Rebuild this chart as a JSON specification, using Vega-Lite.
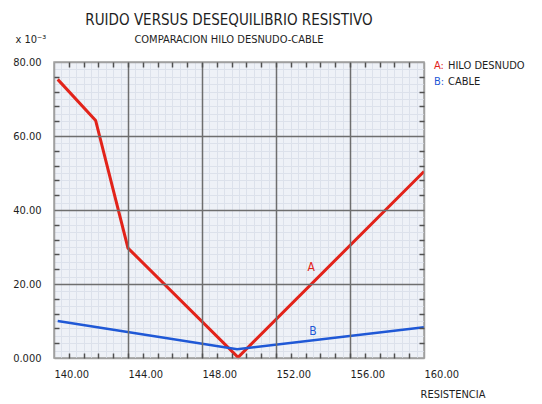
{
  "$schema": "https://vega.github.io/schema/vega-lite/v6.json",
  "width": 370,
  "height": 296,
  "autosize": {"type": "none"},
  "padding": {"left": 54, "top": 62, "right": 118, "bottom": 46},
  "background": "white",
  "config": {
    "font": "DejaVu Sans Condensed, sans-serif",
    "view": {"stroke": "#a0a0a0", "strokeWidth": 1.5, "fill": "#eef1f7"}
  },
  "title": {
    "text": "RUIDO VERSUS DESEQUILIBRIO RESISTIVO",
    "subtitle": "COMPARACION HILO DESNUDO-CABLE",
    "font": "DejaVu Sans Condensed, sans-serif",
    "subtitleFont": "DejaVu Sans Condensed, sans-serif",
    "fontSize": 15,
    "fontWeight": "normal",
    "subtitleFontSize": 11,
    "color": "#1e1e1e",
    "subtitleColor": "#1e1e1e",
    "anchor": "middle",
    "dx": -10,
    "dy": 28,
    "offset": 16,
    "subtitlePadding": 6
  },
  "datasets": {
    "lines": [
      {"series": "A", "x": 140.2, "y": 75.3},
      {"series": "A", "x": 142.25, "y": 64.2},
      {"series": "A", "x": 144.0, "y": 29.7},
      {"series": "A", "x": 149.95, "y": 0.2},
      {"series": "A", "x": 160.0, "y": 50.4},
      {"series": "B", "x": 140.2, "y": 10.0},
      {"series": "B", "x": 149.9, "y": 2.4},
      {"series": "B", "x": 160.0, "y": 8.3}
    ],
    "tags": [
      {"series": "A", "x": 153.9, "y": 24.7},
      {"series": "B", "x": 154.0, "y": 7.3}
    ]
  },
  "resolve": {"axis": {"x": "independent", "y": "independent"}},
  "layer": [
    {
      "data": {"name": "lines"},
      "mark": {"type": "point", "opacity": 0},
      "encoding": {
        "x": {"field": "x", "type": "quantitative", "scale": {"domain": [140, 160], "nice": false, "zero": false},
          "axis": {"orient": "bottom", "zindex": 0, "values": [140.4,140.8,141.2,141.6,142,142.4,142.8,143.2,143.6,144.4,144.8,145.2,145.6,146,146.4,146.8,147.2,147.6,148.4,148.8,149.2,149.6,150,150.4,150.8,151.2,151.6,152.4,152.8,153.2,153.6,154,154.4,154.8,155.2,155.6,156.4,156.8,157.2,157.6,158,158.4,158.8,159.2,159.6],
            "grid": true, "gridColor": "#dce1eb", "gridWidth": 1, "labels": false, "ticks": false, "domain": false, "title": null}},
        "y": {"field": "y", "type": "quantitative", "scale": {"domain": [0, 80], "nice": false},
          "axis": {"orient": "left", "zindex": 0, "values": [2,4,6,8,10,12,14,16,18,22,24,26,28,30,32,34,36,38,42,44,46,48,50,52,54,56,58,62,64,66,68,70,72,74,76,78],
            "grid": true, "gridColor": "#dce1eb", "gridWidth": 1, "labels": false, "ticks": false, "domain": false, "title": null}}
      }
    },
    {
      "data": {"name": "lines"},
      "mark": {"type": "point", "opacity": 0},
      "encoding": {
        "x": {"field": "x", "type": "quantitative",
          "axis": {"orient": "bottom", "zindex": 1, "values": [140,144,148,152,156,160],
            "grid": true,
            "gridColor": {"condition": {"test": "datum.value == 140 || datum.value == 160", "value": "#a0a0a0"}, "value": "#6e6e6e"},
            "gridWidth": 1.5,
            "ticks": false, "domain": false,
            "labelExpr": "format(datum.value, '.2f')",
            "labelAlign": "left", "labelBaseline": "top", "labelPadding": 10, "labelFlush": false,
            "labelFont": "DejaVu Sans Condensed, sans-serif",
            "labelFontSize": 11, "labelColor": "#1e1e1e",
            "title": "RESISTENCIA", "titleFontWeight": "normal", "titleFontSize": 11, "titleColor": "#1e1e1e",
            "titleFont": "DejaVu Sans Condensed, sans-serif",
            "titleAnchor": "start", "titleAlign": "left", "titleBaseline": "alphabetic", "titleX": 366, "titleY": 39}},
        "y": {"field": "y", "type": "quantitative",
          "axis": {"orient": "left", "zindex": 1, "values": [0,20,40,60,80],
            "grid": true,
            "gridColor": {"condition": {"test": "datum.value == 0 || datum.value == 80", "value": "#a0a0a0"}, "value": "#6e6e6e"},
            "gridWidth": 1.5,
            "ticks": false, "domain": false,
            "labelExpr": "datum.value == 0 ? '0.000' : format(datum.value, '.2f')",
            "labelPadding": 13,
            "labelFont": "DejaVu Sans Condensed, sans-serif",
            "labelFontSize": 11, "labelColor": "#1e1e1e",
            "title": "x 10⁻³", "titleAngle": 0, "titleFontWeight": "normal", "titleFontSize": 11, "titleColor": "#1e1e1e",
            "titleFont": "DejaVu Sans Condensed, sans-serif",
            "titleAlign": "left", "titleBaseline": "alphabetic", "titleX": -39, "titleY": -20}}
      }
    },
    {
      "data": {"name": "lines"},
      "mark": {"type": "point", "opacity": 0},
      "encoding": {
        "x": {"field": "x", "type": "quantitative",
          "axis": {"orient": "bottom", "zindex": 1, "values": [140.8,141.6,142.4,143.2,144,144.8,145.6,146.4,147.2,148,148.8,149.6,150.4,151.2,152,152.8,153.6,154.4,155.2,156,156.8,157.6,158.4,159.2],
            "grid": false, "labels": false, "domain": false, "ticks": true, "tickSize": -5, "tickWidth": 1.5, "tickColor": "#505050", "title": null}},
        "y": {"field": "y", "type": "quantitative",
          "axis": {"orient": "left", "zindex": 1, "values": [4,8,12,16,24,28,32,36,44,48,52,56,64,68,72,76],
            "grid": false, "labels": false, "domain": false, "ticks": true, "tickSize": -5, "tickWidth": 1.5, "tickColor": "#505050", "title": null}}
      }
    },
    {
      "data": {"name": "lines"},
      "mark": {"type": "point", "opacity": 0},
      "encoding": {
        "x": {"field": "x", "type": "quantitative",
          "axis": {"orient": "top", "zindex": 1, "values": [140.8,141.6,142.4,143.2,144,144.8,145.6,146.4,147.2,148,148.8,149.6,150.4,151.2,152,152.8,153.6,154.4,155.2,156,156.8,157.6,158.4,159.2],
            "grid": false, "labels": false, "domain": false, "ticks": true, "tickSize": -5, "tickWidth": 1.5, "tickColor": "#505050", "title": null}},
        "y": {"field": "y", "type": "quantitative",
          "axis": {"orient": "right", "zindex": 1, "values": [4,8,12,16,24,28,32,36,44,48,52,56,64,68,72,76],
            "grid": false, "labels": false, "domain": false, "ticks": true, "tickSize": -5, "tickWidth": 1.5, "tickColor": "#505050", "title": null}}
      }
    },
    {
      "data": {"name": "lines"},
      "mark": {"type": "line", "strokeJoin": "miter", "zindex": 2},
      "encoding": {
        "x": {"field": "x", "type": "quantitative", "axis": null},
        "y": {"field": "y", "type": "quantitative", "axis": null},
        "color": {"field": "series", "type": "nominal", "scale": {"domain": ["A", "B"], "range": ["#e2231a", "#1f58d6"]}, "legend": null},
        "strokeWidth": {"field": "series", "type": "nominal", "scale": {"domain": ["A", "B"], "range": [3, 2.5]}, "legend": null}
      }
    },
    {
      "data": {"name": "tags"},
      "mark": {"type": "text", "fontSize": 12, "zindex": 2, "font": "DejaVu Sans Condensed, sans-serif"},
      "encoding": {
        "x": {"field": "x", "type": "quantitative", "axis": null},
        "y": {"field": "y", "type": "quantitative", "axis": null},
        "text": {"field": "series"},
        "color": {"field": "series", "type": "nominal", "scale": {"domain": ["A", "B"], "range": ["#e2231a", "#1f58d6"]}, "legend": null}
      }
    },
    {
      "data": {"values": [{"label": "A:"}]},
      "mark": {"type": "text", "align": "left", "baseline": "alphabetic", "fontSize": 11, "color": "#e2231a", "font": "DejaVu Sans Condensed, sans-serif"},
      "encoding": {
        "x": {"datum": 160.54, "type": "quantitative", "axis": null},
        "y": {"datum": 78.0, "type": "quantitative", "axis": null},
        "text": {"field": "label"}
      }
    },
    {
      "data": {"values": [{"label": "HILO DESNUDO"}]},
      "mark": {"type": "text", "align": "left", "baseline": "alphabetic", "fontSize": 11, "dx": 14, "color": "#1e1e1e", "font": "DejaVu Sans Condensed, sans-serif"},
      "encoding": {
        "x": {"datum": 160.54, "type": "quantitative", "axis": null},
        "y": {"datum": 78.0, "type": "quantitative", "axis": null},
        "text": {"field": "label"}
      }
    },
    {
      "data": {"values": [{"label": "B:"}]},
      "mark": {"type": "text", "align": "left", "baseline": "alphabetic", "fontSize": 11, "color": "#1f58d6", "font": "DejaVu Sans Condensed, sans-serif"},
      "encoding": {
        "x": {"datum": 160.54, "type": "quantitative", "axis": null},
        "y": {"datum": 73.7, "type": "quantitative", "axis": null},
        "text": {"field": "label"}
      }
    },
    {
      "data": {"values": [{"label": "CABLE"}]},
      "mark": {"type": "text", "align": "left", "baseline": "alphabetic", "fontSize": 11, "dx": 14, "color": "#1e1e1e", "font": "DejaVu Sans Condensed, sans-serif"},
      "encoding": {
        "x": {"datum": 160.54, "type": "quantitative", "axis": null},
        "y": {"datum": 73.7, "type": "quantitative", "axis": null},
        "text": {"field": "label"}
      }
    }
  ]
}
